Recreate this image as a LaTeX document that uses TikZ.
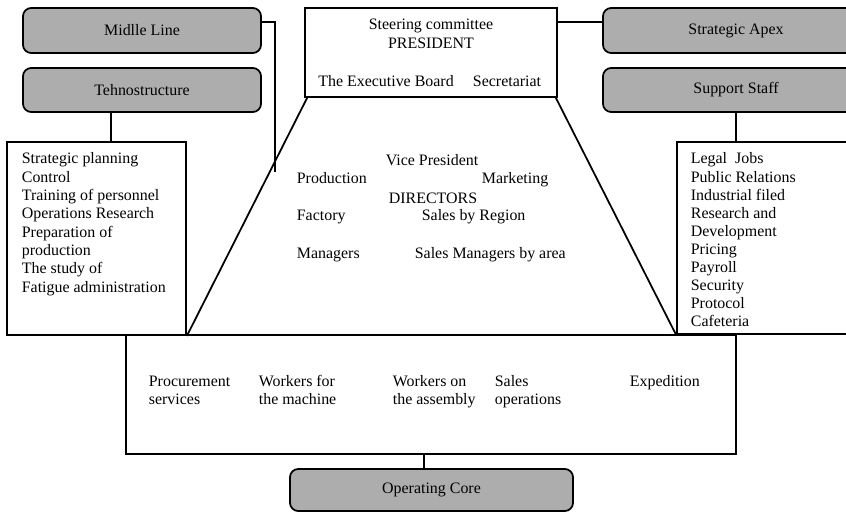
\documentclass[tikz,border=0pt]{standalone}
\usepackage{fontspec}
\setmainfont{Liberation Serif}
\usetikzlibrary{calc}

\begin{document}
\begin{tikzpicture}[x=0.03cm, y=-0.03cm, line width=1.5pt,
	graybox/.style={draw, fill=black!32, rounded corners=7pt, inner sep=0pt, font=\fontsize{13.6}{15.6}\selectfont},
	plainbox/.style={draw, inner sep=0pt},
	lbl/.style={inner sep=0pt, anchor=base west, font=\fontsize{13.6}{15.6}\selectfont},
	clbl/.style={lbl, anchor=base}]
			%%%%% START %%%%%
			
			\useasboundingbox (0, 0) rectangle (846, 513);
			\clip (0, 0) rectangle (846, 513);
			
			% side labels
			\node[graybox, minimum width=7.14cm, minimum height=1.35cm] (midline) at (142, 30.5) {Midlle Line};
			\node[graybox, minimum width=7.14cm, minimum height=1.32cm] (techno) at (142, 90) {Tehnostructure};
			\node[graybox, minimum width=7.98cm, minimum height=1.35cm] (apex) at (736, 30.5) {Strategic Apex};
			\node[graybox, minimum width=7.98cm, minimum height=1.32cm] (support) at (736, 90) {Support Staff};
			\node[graybox, minimum width=8.49cm, minimum height=1.26cm] (core) at (431.5, 490) {Operating Core};
			
			% boxes
			\node[plainbox, minimum width=7.56cm, minimum height=2.67cm] (steer) at (431, 52.5) {};
			\node[plainbox, minimum width=5.37cm, minimum height=5.79cm] (leftbox) at (96.5, 238.5) {};
			\node[plainbox, minimum width=5.49cm, minimum height=5.76cm] (rightbox) at (768.5, 238) {};
			\node[plainbox, minimum width=18.3cm, minimum height=3.57cm] (opbox) at (431, 394.5) {};
			
			% top
			\node[clbl] (steering) at (431, 30) {Steering committee};
			\node[clbl] (president) at (431, 49) {PRESIDENT};
			\node[clbl] (board) at (386, 87) {The Executive Board};
			\node[clbl] (secret) at (507, 87) {Secretariat};
			
			% lists
			\foreach \t [count=\i from 0] in {Strategic planning, Control, Training of personnel, Operations Research, Preparation of, production, The study of, Fatigue administration}
				\node[lbl] (tech\i) at (21, 164+18.3*\i) {\t};
			\foreach \t [count=\i from 0] in {Legal\ \ Jobs, Public Relations, Industrial filed, Research and, Development, Pricing, Payroll, Security, Protocol, Cafeteria}
				\node[lbl] (staff\i) at (690, 164+18.1*\i) {\t};
			
			% middle line
			\node[lbl] (vice) at (385, 166) {Vice President};
			\node[lbl] (prod) at (296, 184) {Production};
			\node[lbl] (market) at (481, 184) {Marketing};
			\node[lbl] (direct) at (388, 203) {DIRECTORS};
			\node[lbl] (factory) at (296, 221) {Factory};
			\node[lbl] (region) at (421, 221) {Sales by Region};
			\node[lbl] (managers) at (296, 258) {Managers};
			\node[lbl] (area) at (414, 258) {Sales Managers by area};
			
			% operating core
			\node[lbl] (procure) at (148, 386) {Procurement};
			\node[lbl] (procure2) at (148, 404) {services};
			\node[lbl] (machine) at (258, 386) {Workers for};
			\node[lbl] (machine2) at (258, 404) {the machine};
			\node[lbl] (assembly) at (392, 386) {Workers on};
			\node[lbl] (assembly2) at (392, 404) {the assembly};
			\node[lbl] (salesop) at (494, 386) {Sales};
			\node[lbl] (salesop2) at (494, 404) {operations};
			\node[lbl] (exped) at (629, 386) {Expedition};
			
			% connectors
			\coordinate (mlend) at (275, 172);
			\coordinate (tx) at (111, 0);
			\coordinate (cx) at (424, 0);
			\draw ($(midline.north east)+(0, 15)$) -| (mlend);
			\draw ($(steer.north east)+(0, 15)$) -- ($(apex.north west)+(0, 15)$);
			\draw (techno.south -| tx) -- (leftbox.north -| tx);
			\draw (support.south) -- (support.south |- rightbox.north);
			\draw (opbox.south -| cx) -- (core.north -| cx);
			\draw ($(steer.south west)+(3, 0)$) -- (leftbox.south east);
			\draw ($(steer.south east)+(-2, 0)$) -- (rightbox.south west);
			
			%%%%% END %%%%%
\end{tikzpicture}
\end{document}
